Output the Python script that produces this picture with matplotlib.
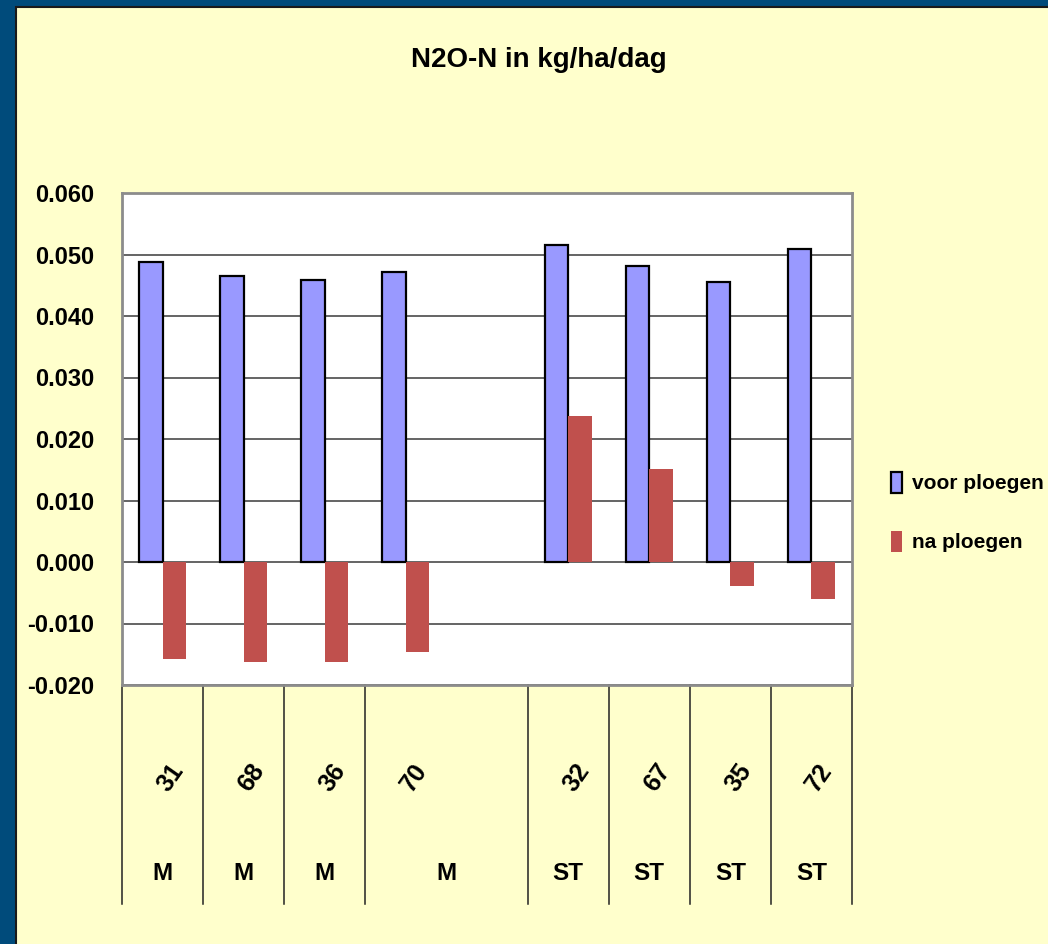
import matplotlib.pyplot as plt
import numpy as np
from matplotlib.patches import Rectangle

# Dados (kg N2O-N/ha/dag); lege categorie = ruimte tussen M en ST
proef = ["31", "68", "36", "70", "", "32", "67", "35", "72"]
groep = ["M", "M", "M", "M", "", "ST", "ST", "ST", "ST"]
voor_ploegen = [0.0488, 0.0465, 0.0459, 0.0472, np.nan, 0.0515, 0.0482, 0.0455, 0.0509]
na_ploegen = [-0.0158, -0.0163, -0.0163, -0.0146, np.nan, 0.0237, 0.0151, -0.0039, -0.0060]
y_ticks = [-0.02, -0.01, 0.0, 0.01, 0.02, 0.03, 0.04, 0.05, 0.06]

W, H = 1048, 944
plt.rcParams["font.family"] = ["Liberation Sans", "DejaVu Sans"]
plt.rcParams["font.weight"] = "bold"

fig = plt.figure(figsize=(W / 100, H / 100), dpi=100, facecolor="#004B7B")
fig.patches.append(Rectangle((16 / W, -0.02), 1, (H - 7) / H + 0.02, transform=fig.transFigure,
                             facecolor="#FFFFCC", edgecolor="#1a1a1a", lw=1.5, zorder=-5))

ax = fig.add_axes([122 / W, (H - 685) / H, 730 / W, 492 / H])
ax.set_facecolor("white")

x = np.arange(len(proef))
bw = 0.29
b1 = ax.bar(x - bw / 2, voor_ploegen, bw, color="#9999FF", edgecolor="black", linewidth=1.6,
            label="voor ploegen", zorder=3)
b2 = ax.bar(x + bw / 2, na_ploegen, bw, color="#C0504D", linewidth=0,
            label="na ploegen", zorder=3)

ax.set_xlim(-0.5, len(proef) - 0.5)
ax.set_ylim(-0.02, 0.06)
ax.set_yticks(y_ticks)
ax.set_yticklabels([f"{v:.3f}" for v in y_ticks], fontsize=17, fontweight="bold")
ax.tick_params(axis="y", length=0, pad=20)
ax.set_xticks([])
ax.yaxis.grid(True, color="#3a3a3a", linewidth=1.1, zorder=1)
ax.set_axisbelow(True)
for s in ax.spines.values():
    s.set_color("#8c8c8c")
    s.set_linewidth(2)

# categorie-as met twee niveaus
trans = ax.get_xaxis_transform()
grenzen = [i - 0.5 for i in x if proef[i] != ""] + [len(proef) - 0.5]
for g in grenzen:
    ax.plot([g, g], [0, -0.445], transform=trans, color="#222222", lw=1.1, clip_on=False)

for i in x:
    if proef[i] == "":
        continue
    ax.text(i + 0.1, -0.189, proef[i], transform=trans, rotation=55, rotation_mode="anchor",
            ha="center", va="center", fontsize=18, fontweight="bold")
    j = i
    while j + 1 < len(proef) and proef[j + 1] == "":
        j += 1
    ax.text((i + j) / 2, -0.384, groep[i], transform=trans, ha="center", va="center",
            fontsize=17.5, fontweight="bold")

fig.text(539 / W, 1 - 60 / H, "N2O-N in kg/ha/dag", ha="center", va="center",
         fontsize=20, fontweight="bold")

fig.legend(handles=[b1, b2], loc="center left", bbox_to_anchor=(891 / W, 1 - 512 / H),
           frameon=False, handlelength=0.55, handleheight=1.2,
           handletextpad=0.45, labelspacing=1.8, borderpad=0, borderaxespad=0,
           prop={"weight": "bold", "size": 15})

fig.savefig("out.png", dpi=100, facecolor=fig.get_facecolor())
